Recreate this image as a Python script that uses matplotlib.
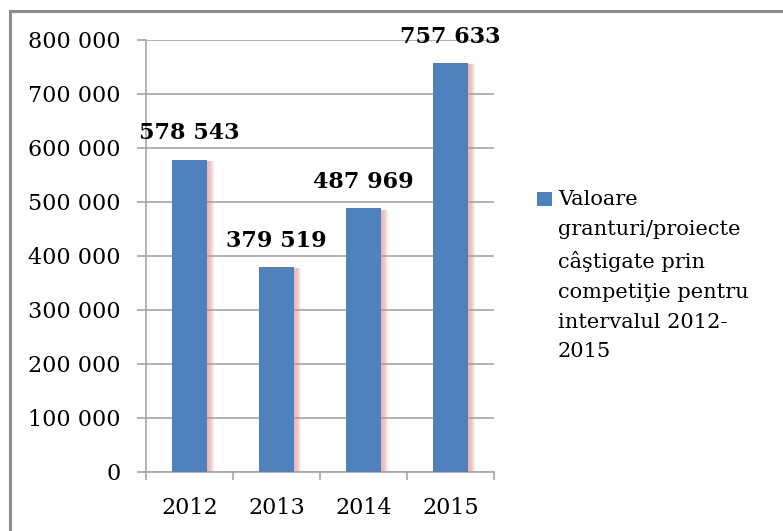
import matplotlib
matplotlib.use("Agg")
import matplotlib.pyplot as plt
import matplotlib.patheffects as pe
from matplotlib.patches import Rectangle
from matplotlib.lines import Line2D
import numpy as np

years = ["2012", "2013", "2014", "2015"]
values = [578543, 379519, 487969, 757633]
y_ticks = [0, 100000, 200000, 300000, 400000, 500000, 600000, 700000, 800000]
legend_label = "Valoare\ngranturi/proiecte\ncâştigate prin\ncompetiţie pentru\nintervalul 2012-\n2015"

bar_color = "#4f81bd"
grid_color = "#a6a6a6"

plt.rcParams["font.family"] = ["DejaVu Serif"]

W, H = 783, 531
fig = plt.figure(figsize=(W / 100, H / 100), dpi=100)


def px(x0, y0, x1, y1):
    # pixel box (top-left origin) -> figure fraction rect
    return [x0 / W, 1 - y1 / H, (x1 - x0) / W, (y1 - y0) / H]


ax = fig.add_axes(px(146, 40, 494, 472))

x = np.arange(len(years))

# soft pink shadow on the right side of the bars
shadow = [
    pe.SimplePatchShadow(offset=(k, -1), shadow_rgbFace="#e08888", alpha=0.14)
    for k in (0.8, 1.6, 2.4, 3.2, 4.0, 4.8)
]
bars = ax.bar(x, values, width=0.41, color=bar_color, zorder=3)
for b in bars:
    b.set_path_effects(shadow + [pe.Normal()])

for xi, v in zip(x, values):
    ax.annotate(
        f"{v:,}".replace(",", " "),
        (xi, v),
        xytext=(0, 11),
        textcoords="offset points",
        ha="center",
        va="bottom",
        fontsize=16,
        fontweight="bold",
        zorder=5,
    )

ax.set_xlim(-0.5, len(years) - 0.5)
ax.set_ylim(0, 800000)
ax.set_yticks(y_ticks)
ax.set_yticklabels([f"{t:,}".replace(",", " ") for t in y_ticks], fontsize=16)
ax.set_xticks(x)
ax.set_xticklabels(years, fontsize=16)
ax.set_xticks(np.arange(len(years) + 1) - 0.5, minor=True)

ax.grid(axis="y", color=grid_color, linewidth=1.2, zorder=0)
ax.set_axisbelow(True)
for s in ("top", "right"):
    ax.spines[s].set_visible(False)
for s in ("left", "bottom"):
    ax.spines[s].set_color(grid_color)
    ax.spines[s].set_linewidth(1.2)

ax.tick_params(axis="y", length=6.5, width=1.2, color=grid_color, pad=12)
ax.tick_params(axis="x", which="major", length=0, pad=18)
ax.tick_params(axis="x", which="minor", length=6, width=1.2, color=grid_color)

# legend
fig.add_artist(
    Rectangle((537 / W, 1 - 206 / H), 15 / W, 14 / H,
              transform=fig.transFigure, facecolor=bar_color, edgecolor="none")
)
fig.text(558 / W, 1 - 190 / H, legend_label, fontsize=15, va="top", ha="left",
         linespacing=1.72)

# outer frame
frame = dict(color="#8c8c8c", linewidth=2.2, transform=fig.transFigure)
fig.add_artist(Line2D([9.5 / W, 9.5 / W], [0, 1 - 11 / H], **frame))
fig.add_artist(Line2D([9.5 / W, 1], [1 - 11 / H, 1 - 11 / H], **frame))

plt.savefig("out.png", dpi=100)
plt.close()
